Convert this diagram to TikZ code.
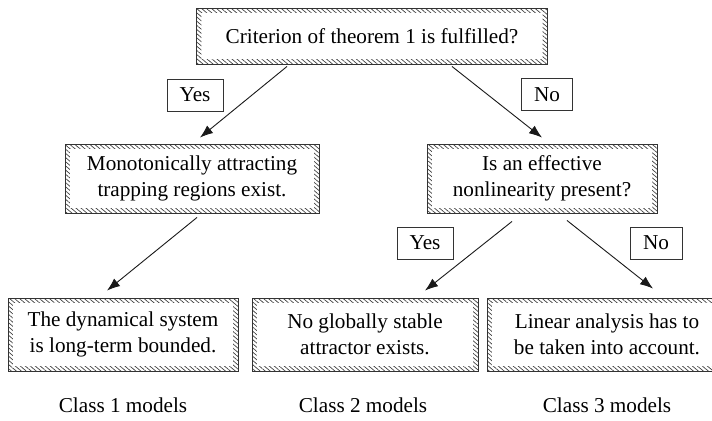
\documentclass[tikz,border=0pt]{standalone}
\usepackage{fontspec}
\setmainfont{Liberation Serif}
\usepackage{tikz}
\usetikzlibrary{arrows.meta,patterns.meta}

\begin{document}
\begin{tikzpicture}[
  x=0.5pt, y=-0.5pt,
  every node/.style={font=\fontsize{10.6}{13}\selectfont},
  hatched/.style={rectangle, draw=black!80, line width=0.45pt, align=center,
    inner sep=1pt, minimum height=34.5pt,
    path picture={\fill[pattern={Lines[angle=-40,distance=1.6pt,line width=0.35pt]},
      pattern color=black!75, even odd rule]
      (path picture bounding box.south west) rectangle (path picture bounding box.north east)
      ([shift={(2.4pt,2.4pt)}]path picture bounding box.south west) rectangle
      ([shift={(-2.4pt,-2.4pt)}]path picture bounding box.north east);}},
  answer/.style={rectangle, draw=black!80, line width=0.4pt, minimum height=16pt,
    minimum width=28pt, inner sep=1pt},
  flow/.style={-{Latex[length=6.5pt,width=4.8pt]}, line width=0.45pt, draw=black!90}
]
  \useasboundingbox (0,0) rectangle (712,420);

  % decision tree
  \node[hatched, minimum width=175.5pt, minimum height=28pt] (crit) at (372,36)
    {Criterion of theorem 1 is fulfilled?};
  \node[hatched, minimum width=127pt] (mono) at (192,178.5)
    {Monotonically attracting\\trapping regions exist.};
  \node[hatched, minimum width=115pt] (effect) at (542,178.5)
    {Is an effective\\nonlinearity present?};
  \node[hatched, minimum width=115pt, minimum height=36.5pt] (bounded) at (123,334.5)
    {The dynamical system\\is long-term bounded.};
  \node[hatched, minimum width=113pt, minimum height=36.5pt] (noattr) at (365,334.5)
    {No globally stable\\attractor exists.};
  \node[hatched, minimum width=120pt, minimum height=36.5pt] (linear) at (607,334.5)
    {Linear analysis has to\\be taken into account.};

  \node[answer] (yesone) at (195,95) {Yes};
  \node[answer, minimum width=25.5pt] (noone) at (547,94.5) {No};
  \node[answer] (yestwo) at (425,243) {Yes};
  \node[answer, minimum width=26pt] (notwo) at (656,243) {No};

  \draw[flow] ([xshift=-42.5pt,yshift=-1pt]crit.south) -- ([xshift=4pt,yshift=3pt]mono.north);
  \draw[flow] ([xshift=40pt,yshift=-1pt]crit.south) -- ([yshift=3pt]effect.north);
  \draw[flow] ([xshift=2.5pt,yshift=-2pt]mono.south) -- ([xshift=-8pt,yshift=3.5pt]bounded.north);
  \draw[flow] ([xshift=-15pt,yshift=-4pt]effect.south) -- ([xshift=30pt,yshift=3.5pt]noattr.north);
  \draw[flow] ([xshift=12.5pt,yshift=-3.5pt]effect.south) -- ([xshift=23pt,yshift=4.5pt]linear.north);

  % model classes
  \node (classone) at (123,405) {Class 1 models};
  \node (classtwo) at (363,405) {Class 2 models};
  \node (classthree) at (607,405) {Class 3 models};
\end{tikzpicture}
\end{document}
